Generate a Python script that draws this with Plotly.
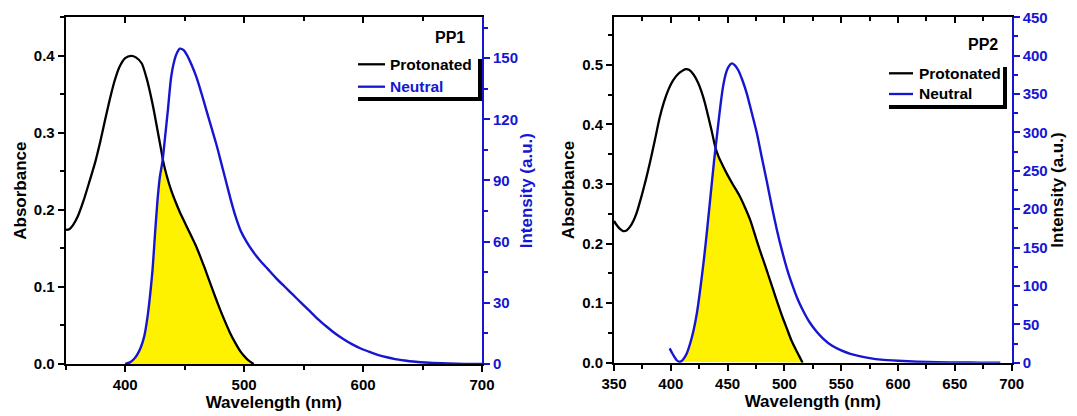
import plotly.graph_objects as go

# ---------------- data ----------------
# PP1 : absorbance of the protonated form
pp1_abs_wl = [350, 353, 356, 360, 365, 370, 375, 379, 383, 387, 391, 395, 400, 405, 409, 414,
              418, 421, 424, 427, 430, 432, 435, 439, 443, 446, 450, 455, 459, 463, 467, 471,
              476, 480, 484, 488, 492, 497, 502, 505, 508]
pp1_abs = [0.174, 0.175, 0.180, 0.191, 0.212, 0.237, 0.263, 0.288, 0.316, 0.343, 0.367, 0.385,
           0.397, 0.400, 0.398, 0.390, 0.371, 0.352, 0.330, 0.305, 0.280, 0.263, 0.244, 0.224,
           0.208, 0.197, 0.184, 0.168, 0.155, 0.140, 0.124, 0.107, 0.086, 0.070, 0.055, 0.041,
           0.029, 0.016, 0.007, 0.003, 0.000]
# PP1 : emission of the neutral form
pp1_em_wl = [400, 404, 407, 410, 413, 416, 419, 421, 423, 425, 427, 429, 431.5, 433.5, 436, 438.5,
             441, 443.5, 446, 449, 452, 456, 460, 464, 468, 472, 477, 481, 485, 489, 493, 497,
             502, 507, 513, 520, 527, 534, 541, 548, 555, 562, 569, 576, 584, 591, 598, 606,
             613, 620, 627, 635, 642, 656, 671, 685, 700]
pp1_em = [0, 0.8, 2.2, 4.5, 8, 13.5, 24, 34, 46, 63, 79, 91, 100, 111, 125, 140,
          148, 152.5, 154.6, 154, 151.5, 146.5, 140.5, 133, 125, 117, 107, 98, 89, 80, 72, 65.5,
          60, 55.5, 51, 46.5, 42, 38, 34, 30, 26, 22, 18.5, 15.2, 12, 9.6, 7.6, 5.8,
          4.4, 3.3, 2.4, 1.7, 1.2, 0.6, 0.25, 0.08, 0]

# PP2 : absorbance of the protonated form
pp2_abs_wl = [350, 352, 355, 358, 361, 364, 367, 370, 374, 378, 382, 386, 390, 394, 398, 402,
              406, 410, 413, 416, 420, 424, 427, 430, 433, 436, 439, 442, 446, 450, 455, 460,
              465, 470, 474, 478, 482, 486, 490, 494, 498, 502, 506, 510, 513, 516]
pp2_abs = [0.238, 0.232, 0.225, 0.221, 0.222, 0.228, 0.238, 0.252, 0.278, 0.307, 0.339, 0.374,
           0.410, 0.438, 0.459, 0.474, 0.484, 0.490, 0.493, 0.492, 0.484, 0.470, 0.455, 0.436,
           0.413, 0.389, 0.363, 0.346, 0.330, 0.315, 0.298, 0.282, 0.262, 0.239, 0.215, 0.191,
           0.169, 0.146, 0.123, 0.100, 0.078, 0.058, 0.038, 0.022, 0.011, 0.000]
# PP2 : emission of the neutral form
pp2_em_wl = [399, 401, 403, 405, 407, 409, 411, 414, 417, 420, 423, 426, 429, 432, 435, 438,
             440, 442, 444, 446, 448.5, 451, 453.6, 456, 459.4, 463, 467, 471, 475.6, 480, 484.5, 489,
             493.5, 498, 502.5, 507, 511, 516, 522, 528, 534, 542, 550, 558, 566, 575,
             585, 600, 617, 635, 655, 672, 690]
pp2_em = [18.7, 13, 8, 3.5, 1.3, 1.8, 4.5, 12, 25, 42, 65, 97, 133, 174, 218, 262,
          288, 314, 339, 360, 377, 386, 390, 388, 381, 368, 350, 327, 300, 268, 236, 203,
          172, 145, 121, 101, 85, 69, 53, 41, 31.5, 22, 16, 11.5, 8.5, 6,
          4, 2.5, 1.3, 0.7, 0.3, 0.1, 0]

# overlap (yellow) region: emission edge up to the crossing, absorbance edge after it
pp1_cross = 432
pp1_fill_start = 400
pp2_cross = 439
pp2_fill_start = 407

# axis ranges
x_range = [350, 700]
pp1_abs_range = [0, 0.45]
pp1_em_range = [0, 170]
pp2_abs_range = [0, 0.58]
pp2_em_range = [0, 450]

# ---------------- styling ----------------
W, H = 1077, 416
BLUE = "#1616D2"
BLACK = "#000000"
YELLOW = "#FFF200"
FAM = "Liberation Sans, Arial, sans-serif"


def bold(size, color=BLACK):
    return dict(family=FAM, size=size, color=color, weight="bold")


def overlap(em_wl, em, ab_wl, ab, cross, start, em_max, ab_max):
    k = ab_max / em_max
    xs = [w for w in em_wl if start <= w < cross]
    ys = [v * k for w, v in zip(em_wl, em) if start <= w < cross]
    xs += [w for w in ab_wl if w >= cross]
    ys += [v for w, v in zip(ab_wl, ab) if w >= cross]
    return xs, ys


fig = go.Figure()

panels = [
    dict(x="x", y="y", y2="y2", xt="x3",
         em_wl=pp1_em_wl, em=pp1_em, ab_wl=pp1_abs_wl, ab=pp1_abs,
         cross=pp1_cross, start=pp1_fill_start, em_r=pp1_em_range, ab_r=pp1_abs_range),
    dict(x="x2", y="y3", y2="y4", xt="x4",
         em_wl=pp2_em_wl, em=pp2_em, ab_wl=pp2_abs_wl, ab=pp2_abs,
         cross=pp2_cross, start=pp2_fill_start, em_r=pp2_em_range, ab_r=pp2_abs_range),
]

for p in panels:
    fx, fy = overlap(p["em_wl"], p["em"], p["ab_wl"], p["ab"], p["cross"], p["start"],
                     p["em_r"][1], p["ab_r"][1])
    fig.add_trace(go.Scatter(x=fx, y=fy, xaxis=p["x"], yaxis=p["y"], mode="lines",
                             fill="toself", fillcolor=YELLOW,
                             line=dict(width=0, shape="spline", smoothing=0.6),
                             hoverinfo="skip", showlegend=False))
    fig.add_trace(go.Scatter(x=p["ab_wl"], y=p["ab"], xaxis=p["x"], yaxis=p["y"], mode="lines",
                             name="Protonated",
                             line=dict(color=BLACK, width=2.3, shape="spline", smoothing=0.6),
                             showlegend=False))
    fig.add_trace(go.Scatter(x=p["em_wl"], y=p["em"], xaxis=p["x"], yaxis=p["y2"], mode="lines",
                             name="Neutral",
                             line=dict(color=BLUE, width=2.4, shape="spline", smoothing=0.6),
                             showlegend=False))
    # dummy trace so the mirrored top axis is drawn
    fig.add_trace(go.Scatter(x=[None], y=[None], xaxis=p["xt"], yaxis=p["y"], mode="lines",
                             hoverinfo="skip", showlegend=False))


def px_x(v):
    return v / W


def px_y(v):
    return 1 - v / H


common_axis = dict(showgrid=False, zeroline=False, showline=True, linewidth=2,
                   automargin=False, tickwidth=2)


def minor(d, ticks, color=BLACK):
    return dict(dtick=d, ticks=ticks, ticklen=4, tickwidth=2, tickcolor=color)


dom1 = [px_x(65.7), px_x(482)]
dom2 = [px_x(614), px_x(1011.7)]
ydom1 = [px_y(364), px_y(17.3)]
ydom2 = [px_y(362.7), px_y(17.3)]

fig.update_layout(
    width=W, height=H, margin=dict(l=0, r=0, t=0, b=0),
    paper_bgcolor="white", plot_bgcolor="white", template="none",
    font=bold(15),
    xaxis=dict(**common_axis, domain=dom1, anchor="y", range=x_range, dtick=100, tick0=0,
               ticks="outside", ticklen=6, linecolor=BLACK, tickcolor=BLACK,
               tickfont=bold(15), minor=minor(50, "outside"),
               title=dict(text="Wavelength (nm)", font=bold(17), standoff=4)),
    xaxis3=dict(**common_axis, domain=dom1, anchor="y", overlaying="x", side="top", range=x_range,
                dtick=100, tick0=0, ticks="inside", ticklen=6, linecolor=BLACK, tickcolor=BLACK,
                showticklabels=False, minor=minor(50, "inside")),
    yaxis=dict(**common_axis, domain=ydom1, anchor="x", range=pp1_abs_range, dtick=0.1, tick0=0,
               tickformat=".1f", ticks="outside", ticklen=6, linecolor=BLACK, tickcolor=BLACK,
               tickfont=bold(15), minor=minor(0.05, "outside"),
               title=dict(text="Absorbance", font=bold(17), standoff=3)),
    yaxis2=dict(**common_axis, domain=ydom1, anchor="x", overlaying="y", side="right",
                range=pp1_em_range, dtick=30, tick0=0, ticks="outside", ticklen=6,
                linecolor=BLUE, tickcolor=BLUE, tickfont=bold(15, BLUE),
                minor=minor(15, "outside", BLUE),
                title=dict(text="Intensity (a.u.)", font=bold(17, BLUE), standoff=3)),
    xaxis2=dict(**common_axis, domain=dom2, anchor="y3", range=x_range, dtick=50, tick0=0,
                ticks="outside", ticklen=6, linecolor=BLACK, tickcolor=BLACK,
                tickfont=bold(15), minor=minor(25, "outside"),
                title=dict(text="Wavelength (nm)", font=bold(17), standoff=4)),
    xaxis4=dict(**common_axis, domain=dom2, anchor="y3", overlaying="x2", side="top", range=x_range,
                dtick=50, tick0=0, ticks="inside", ticklen=6, linecolor=BLACK, tickcolor=BLACK,
                showticklabels=False, minor=minor(25, "inside")),
    yaxis3=dict(**common_axis, domain=ydom2, anchor="x2", range=pp2_abs_range, dtick=0.1, tick0=0,
                tickformat=".1f", ticks="outside", ticklen=6, linecolor=BLACK, tickcolor=BLACK,
                tickfont=bold(15), minor=minor(0.05, "outside"),
                title=dict(text="Absorbance", font=bold(17), standoff=3)),
    yaxis4=dict(**common_axis, domain=ydom2, anchor="x2", overlaying="y3", side="right",
                range=pp2_em_range, dtick=50, tick0=0, ticks="outside", ticklen=6,
                linecolor=BLUE, tickcolor=BLUE, tickfont=bold(15, BLUE),
                minor=minor(25, "outside", BLUE),
                title=dict(text="Intensity (a.u.)", font=bold(17), standoff=3)),
)

# ---------------- legends (boxes with a shadow edge, like the original) ----------------
shapes = []
annotations = []


def legend(pp_label, pp_right, pp_y, x0, x1, y_prot, y_neut, text_x, neut_color,
           shadow_x, shadow_top, shadow_y):
    annotations.append(dict(text=pp_label, x=px_x(pp_right), y=px_y(pp_y), xref="paper", yref="paper",
                            xanchor="right", yanchor="middle", showarrow=False, font=bold(16)))
    for yy, col, label, tcol in [(y_prot, BLACK, "Protonated", BLACK),
                                 (y_neut, BLUE, "Neutral", neut_color)]:
        shapes.append(dict(type="line", xref="paper", yref="paper", x0=px_x(x0), x1=px_x(x1),
                           y0=px_y(yy), y1=px_y(yy), line=dict(color=col, width=2.3)))
        annotations.append(dict(text=label, x=px_x(text_x), y=px_y(yy), xref="paper", yref="paper",
                                xanchor="left", yanchor="middle", showarrow=False, font=bold(15.5, tcol)))
    shapes.append(dict(type="line", xref="paper", yref="paper", x0=px_x(x0), x1=px_x(shadow_x + 2),
                       y0=px_y(shadow_y), y1=px_y(shadow_y), line=dict(color=BLACK, width=4)))
    shapes.append(dict(type="line", xref="paper", yref="paper", x0=px_x(shadow_x), x1=px_x(shadow_x),
                       y0=px_y(shadow_top), y1=px_y(shadow_y + 2), line=dict(color=BLACK, width=4)))


legend("PP1", 467, 37, 358, 385, 64.3, 86.7, 388, BLUE, 480, 59, 99)
legend("PP2", 1000, 45, 889, 913, 73.3, 94, 917, BLACK, 1005, 67, 107)

fig.update_layout(shapes=shapes, annotations=annotations)

fig.write_html("out.html")
